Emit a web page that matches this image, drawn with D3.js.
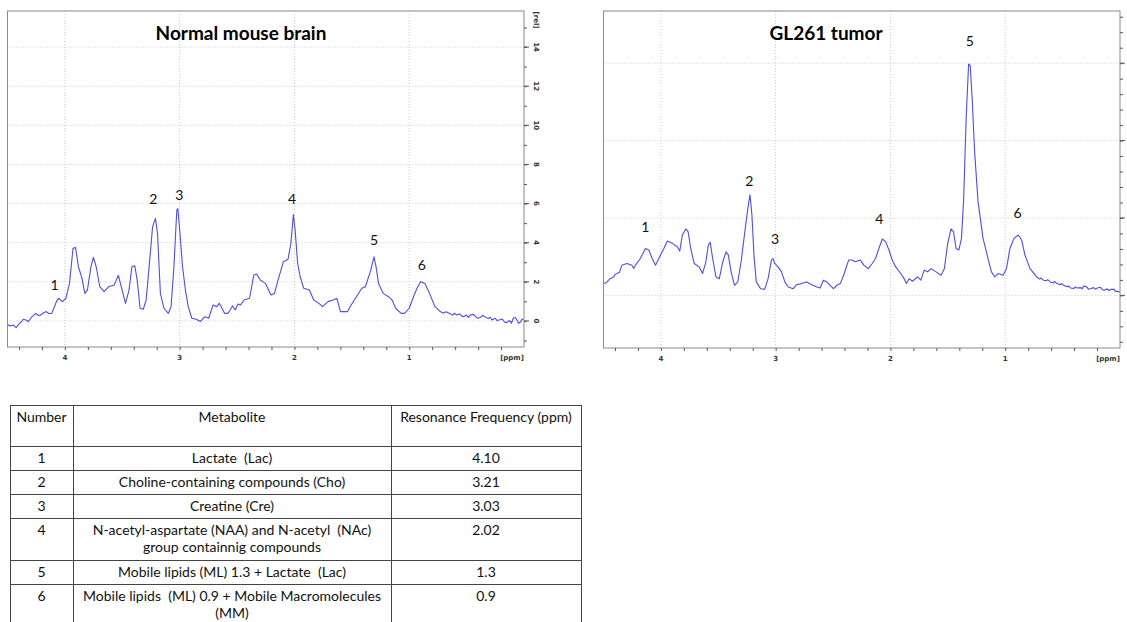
<!DOCTYPE html>
<html>
<head>
<meta charset="utf-8">
<script src="https://cdn.jsdelivr.net/npm/d3@7"></script>
<style>
  body { margin: 0; background: #fff; }
  svg { display: block; }
</style>
</head>
<body>
<div id="plot"></div>
<script>
// ---- data ----
// normal mouse brain spectrum (ppm, relative intensity)
var brainPpm = [4.50,4.47,4.45,4.425,4.40,4.38,4.363,4.34,4.317,4.29,4.27,4.255,4.23,4.208,4.185,4.162,4.14,4.115,4.10,4.068,
  4.053,4.022,3.991,3.960,3.929,3.907,3.882,3.851,3.826,3.804,3.773,3.752,3.727,3.696,3.658,3.618,3.571,3.534,3.509,3.472,3.441,3.416,3.391,3.370,3.345,3.317,3.292,3.261,3.236,3.211,3.193,3.168,3.137,3.099,3.075,3.050,3.025,3.016,2.997,2.975,2.950,2.925,2.894,2.857,2.820,2.780,2.748,2.708,2.677,2.655,2.609,2.578,2.540,2.516,2.491,2.469,2.438,2.391,2.354,2.329,2.298,2.252,2.205,2.174,2.143,2.096,2.056,2.031,2.009,1.994,1.972,1.950,1.919,1.870,1.832,1.786,1.755,1.708,1.662,1.630,1.599,1.568,1.537,1.506,1.460,1.413,1.382,1.335,1.307,1.289,1.267,1.227,1.180,1.149,1.118,1.071,1.040,1.000,0.963,0.932,0.901,0.863,0.823,0.776,
  0.730,0.70,0.68,0.652,0.62,0.605,0.590,0.56,0.545,0.528,0.50,0.485,0.466,0.44,0.42,0.404,0.38,0.36,0.342,0.31,0.295,0.280,0.25,0.235,0.217,0.19,0.17,0.155,0.125,0.11,0.093,0.075,0.06,0.047,0.03,0.018,0.006];
var brainInt = [-0.20,-0.25,-0.20,-0.34,-0.15,-0.05,0.09,0.05,-0.03,0.20,0.30,0.39,0.28,0.31,0.42,0.48,0.38,0.39,0.60,1.07,
  1.16,0.99,1.16,1.92,3.71,3.76,2.77,2.18,1.41,1.58,2.77,3.25,2.77,1.75,1.50,1.75,1.84,2.33,1.75,0.90,1.58,2.77,2.82,2.09,0.65,0.60,1.07,3.11,4.81,5.24,4.47,1.41,0.65,0.39,0.73,2.77,5.66,5.75,4.47,2.77,1.58,0.73,0.14,0.09,-0.03,0.22,0.14,0.82,0.73,0.90,0.39,0.39,0.77,0.56,0.87,0.82,1.07,1.16,2.35,2.40,2.09,1.92,1.33,1.41,2.09,3.03,3.15,3.96,5.44,4.64,2.94,2.26,1.67,1.58,1.07,0.90,0.73,0.99,1.07,1.16,0.48,0.48,0.48,0.82,1.24,1.67,1.75,2.60,3.28,2.77,1.92,1.41,1.24,1.07,0.65,0.39,0.39,0.65,1.24,1.67,2.01,1.92,1.41,0.73,
  0.48,0.40,0.47,0.39,0.30,0.40,0.31,0.36,0.26,0.22,0.30,0.18,0.31,0.33,0.22,0.14,0.18,0.28,0.22,0.12,0.20,0.05,0.14,0.02,0.05,0.10,-0.05,-0.09,0.02,-0.12,0.14,0.18,0.02,-0.12,-0.05,0.10,0.05];

// GL261 tumor spectrum (ppm, relative intensity)
var tumorPpm = [4.495,4.47,4.46,4.442,4.41,4.40,4.383,4.36,4.340,
  4.296,4.252,4.237,4.222,4.179,4.135,4.105,4.076,4.047,4.018,3.974,3.944,3.901,3.857,3.836,3.813,3.783,3.763,3.740,3.710,3.666,3.637,3.608,3.587,3.570,3.549,3.520,3.491,3.461,3.432,3.412,3.388,3.359,3.330,3.301,3.265,3.242,3.224,3.207,3.189,3.169,3.131,3.096,3.066,3.037,3.023,3.008,2.979,2.949,2.920,2.891,2.847,2.818,2.774,2.730,2.686,2.642,2.613,2.584,2.554,2.525,2.496,2.467,2.437,2.408,2.364,2.335,2.306,2.262,2.232,2.194,2.159,2.130,2.101,2.071,2.042,2.013,1.984,1.954,1.910,1.881,1.861,1.837,1.808,1.764,1.735,1.706,1.676,1.647,1.603,1.559,1.530,1.501,1.472,1.451,1.428,1.404,1.381,1.363,1.340,1.319,1.305,1.287,1.267,1.237,1.193,1.150,1.120,1.091,1.062,1.018,0.989,0.959,0.924,0.886,0.857,0.828,0.784,
  0.725,0.70,0.69,0.667,0.64,0.63,0.608,0.58,0.57,0.550,0.52,0.51,0.491,0.46,0.45,0.432,0.40,0.39,0.374,0.34,0.33,0.316,0.29,0.275,0.257,0.23,0.21,0.198,0.17,0.155,0.140,0.11,0.095,0.081,0.05,0.04,0.023,0.0];
var tumorInt = [0.76,0.85,0.95,1.08,1.20,1.35,1.41,1.50,1.95,
  2.06,1.95,1.73,1.95,2.38,3.03,2.93,2.38,1.95,2.38,3.03,3.51,3.36,3.14,2.86,3.90,4.29,4.12,3.03,2.06,1.84,1.41,2.17,3.25,3.42,2.38,1.19,1.08,2.17,2.82,2.60,1.52,0.65,0.87,2.17,4.33,5.64,6.50,5.20,2.60,0.87,0.43,0.39,1.08,2.28,2.38,2.06,1.84,1.52,0.87,0.54,0.43,0.69,0.76,0.87,0.69,0.54,0.48,0.98,0.87,0.65,0.43,0.65,0.76,1.30,2.28,2.28,2.17,2.28,1.95,1.73,2.06,2.38,3.03,3.64,3.47,2.93,2.28,1.84,1.41,1.08,0.76,1.08,0.91,1.19,0.98,1.63,1.52,1.73,1.52,1.30,1.73,3.36,4.29,4.12,3.03,2.93,3.68,6.07,11.49,14.95,14.85,12.57,9.32,6.07,3.68,2.38,1.52,1.19,1.41,1.30,1.73,3.03,3.68,3.90,3.58,2.60,1.73,
  1.19,1.05,1.12,0.98,0.95,1.02,0.87,0.80,0.90,0.76,0.68,0.78,0.65,0.55,0.62,0.48,0.45,0.55,0.48,0.50,0.42,0.61,0.55,0.40,0.43,0.50,0.40,0.48,0.52,0.38,0.33,0.42,0.30,0.39,0.40,0.25,0.26,0.22];

// peak numbers: ppm and height where the label sits
var peakNames = ["1","2","3","4","5","6"];
var brainPeakPpm = [4.09,3.23,3.003,2.02,1.307,0.89];
var brainPeakInt = [1.84,6.21,6.43,6.21,4.13,2.86];
var tumorPeakPpm = [4.135,3.23,3.005,2.098,1.308,0.892];
var tumorPeakInt = [4.40,7.37,3.64,4.96,16.45,5.33];

var ppmTicks = [4,3,2,1];
var brainYTicks = [0,2,4,6,8,10,12,14];
var tumorGridY = [0,5,10,15];

// table
var tableHead = ["Number","Metabolite","Resonance Frequency (ppm)"];
var tableNumbers = ["1","2","3","4","5","6"];
var tableMetabolites = [
  ["Lactate  (Lac)"],
  ["Choline-containing compounds (Cho)"],
  ["Creatine (Cre)"],
  ["N-acetyl-aspartate (NAA) and N-acetyl  (NAc)","group containnig compounds"],
  ["Mobile lipids (ML) 1.3 + Lactate  (Lac)"],
  ["Mobile lipids  (ML) 0.9 + Mobile Macromolecules","(MM)"]
];
var tableFreqs = ["4.10","3.21","3.03","2.02","1.3","0.9"];

var W = 1127, H = 622;
var lineColor = "#4d4de8";
var frameColor = "#8a8a8a";
var gridColor = "#c8c8c8";
var tickFont = "DejaVu Sans, sans-serif";
var textFont = "Lato, 'Open Sans', sans-serif";

var svg = d3.select("#plot").append("svg")
  .attr("width", W).attr("height", H);
svg.append("rect").attr("width", W).attr("height", H).attr("fill", "#fff");

function drawPanel(p) {
  var x = d3.scaleLinear().domain([4.5, 0]).range([p.left, p.right]);
  var y = d3.scaleLinear().domain(p.yDomain).range([p.bottom, p.top]);
  var g = svg.append("g");

  // dotted grid
  g.selectAll(".vgrid").data(ppmTicks).enter().append("line")
    .attr("x1", function(d) { return x(d); }).attr("x2", function(d) { return x(d); })
    .attr("y1", p.top).attr("y2", p.bottom)
    .attr("stroke", gridColor).attr("stroke-dasharray", "1,2");
  g.selectAll(".hgrid").data(p.gridY).enter().append("line")
    .attr("x1", p.left).attr("x2", p.right)
    .attr("y1", function(d) { return y(d); }).attr("y2", function(d) { return y(d); })
    .attr("stroke", gridColor).attr("stroke-dasharray", "1,2");

  // spectrum
  var pts = p.ppm.map(function(d, i) { return [d, p.val[i]]; });
  var line = d3.line()
    .x(function(d) { return x(d[0]); })
    .y(function(d) { return y(d[1]); });
  g.append("path").datum(pts)
    .attr("d", line)
    .attr("fill", "none")
    .attr("stroke", lineColor)
    .attr("stroke-width", 1.1)
    .attr("stroke-linejoin", "round");

  // frame
  g.append("rect")
    .attr("x", p.left).attr("y", p.top)
    .attr("width", p.right - p.left).attr("height", p.bottom - p.top)
    .attr("fill", "none").attr("stroke", frameColor);

  // bottom axis, ticks every 0.2 ppm
  var xAxis = d3.axisBottom(x)
    .tickValues(d3.range(0.2, 4.5, 0.2))
    .tickSize(3).tickFormat("");
  var ax = g.append("g").attr("transform", "translate(0," + p.bottom + ")").call(xAxis);
  ax.select(".domain").remove();
  ax.selectAll("line").attr("stroke", "#555");
  g.selectAll(".xlab").data(ppmTicks).enter().append("text")
    .attr("x", function(d) { return x(d); }).attr("y", p.bottom + 13)
    .attr("text-anchor", "middle")
    .attr("font-family", tickFont).attr("font-size", 7).attr("font-weight", "bold")
    .attr("fill", "#333").text(function(d) { return d; });
  g.append("text")
    .attr("x", p.right - 12).attr("y", p.bottom + 13)
    .attr("text-anchor", "middle")
    .attr("font-family", tickFont).attr("font-size", 7).attr("font-weight", "bold")
    .attr("fill", "#333").text("[ppm]");

  // right axis
  var yMinor = d3.range(Math.ceil(p.yDomain[0]), Math.floor(p.yDomain[1]) + 1);
  var yAxis = d3.axisRight(y).tickValues(yMinor).tickFormat("")
    .tickSize(3);
  var ay = g.append("g").attr("transform", "translate(" + p.right + ",0)").call(yAxis);
  ay.select(".domain").remove();
  ay.selectAll("line").attr("stroke", "#555");
  g.selectAll(".ymaj").data(p.gridY).enter().append("line")
    .attr("x1", p.right).attr("x2", p.right + 5)
    .attr("y1", function(d) { return y(d); }).attr("y2", function(d) { return y(d); })
    .attr("stroke", "#555");

  if (p.yLabels) {
    g.selectAll(".ylab").data(p.yLabels).enter().append("text")
      .attr("transform", function(d) { return "translate(" + (p.right + 10) + "," + y(d) + ") rotate(90)"; })
      .attr("text-anchor", "middle")
      .attr("font-family", tickFont).attr("font-size", 7).attr("font-weight", "bold")
      .attr("fill", "#333").text(function(d) { return d; });
    g.append("text")
      .attr("transform", "translate(" + (p.right + 10) + "," + (p.top + 9) + ") rotate(90)")
      .attr("text-anchor", "middle")
      .attr("font-family", tickFont).attr("font-size", 7).attr("font-weight", "bold")
      .attr("fill", "#333").text("[rel]");
  }

  // title
  g.append("text")
    .attr("x", p.titleX).attr("y", 40)
    .attr("text-anchor", "middle")
    .attr("font-family", textFont).attr("font-size", 19).attr("font-weight", "bold")
    .attr("fill", "#000").text(p.title);

  // peak numbers
  g.selectAll(".peak").data(peakNames).enter().append("text")
    .attr("x", function(d, i) { return x(p.peakPpm[i]); })
    .attr("y", function(d, i) { return y(p.peakInt[i]) + 5; })
    .attr("text-anchor", "middle")
    .attr("font-family", textFont).attr("font-size", 14)
    .attr("fill", "#111").text(function(d) { return d; });
}

drawPanel({
  left: 7.5, right: 524, top: 11, bottom: 347,
  yDomain: [-1.33, 15.84],
  gridY: brainYTicks, yLabels: brainYTicks,
  ppm: brainPpm, val: brainInt,
  peakPpm: brainPeakPpm, peakInt: brainPeakInt,
  title: "Normal mouse brain", titleX: 241
});

drawPanel({
  left: 603.5, right: 1120, top: 11, bottom: 348,
  yDomain: [-3.4, 18.37],
  gridY: tumorGridY, yLabels: null,
  ppm: tumorPpm, val: tumorInt,
  peakPpm: tumorPeakPpm, peakInt: tumorPeakInt,
  title: "GL261 tumor", titleX: 826
});

// ---- table ----
var colX = [10, 73, 391, 581];
var rowY = [405, 446, 470, 494, 518, 560, 584, 630];
var tg = svg.append("g");
var cellFont = 14;

tg.selectAll(".hl").data(rowY).enter().append("line")
  .attr("x1", colX[0]).attr("x2", colX[3])
  .attr("y1", function(d) { return d + 0.5; }).attr("y2", function(d) { return d + 0.5; })
  .attr("stroke", "#444");
tg.selectAll(".vl").data(colX).enter().append("line")
  .attr("x1", function(d) { return d + 0.5; }).attr("x2", function(d) { return d + 0.5; })
  .attr("y1", rowY[0]).attr("y2", rowY[rowY.length - 1])
  .attr("stroke", "#444");

function cellText(col, yTop, lines) {
  var cx = (colX[col] + colX[col + 1]) / 2;
  lines.forEach(function(s, k) {
    tg.append("text")
      .attr("x", cx).attr("y", yTop + 17 + k * 17)
      .attr("text-anchor", "middle")
      .style("white-space", "pre")
      .attr("font-family", textFont).attr("font-size", cellFont)
      .attr("fill", "#111").text(s);
  });
}

tableHead.forEach(function(h, c) { cellText(c, rowY[0], [h]); });
tableNumbers.forEach(function(n, i) {
  var top = rowY[i + 1];
  cellText(0, top, [n]);
  cellText(1, top, tableMetabolites[i]);
  cellText(2, top, [tableFreqs[i]]);
});
</script>
</body>
</html>
